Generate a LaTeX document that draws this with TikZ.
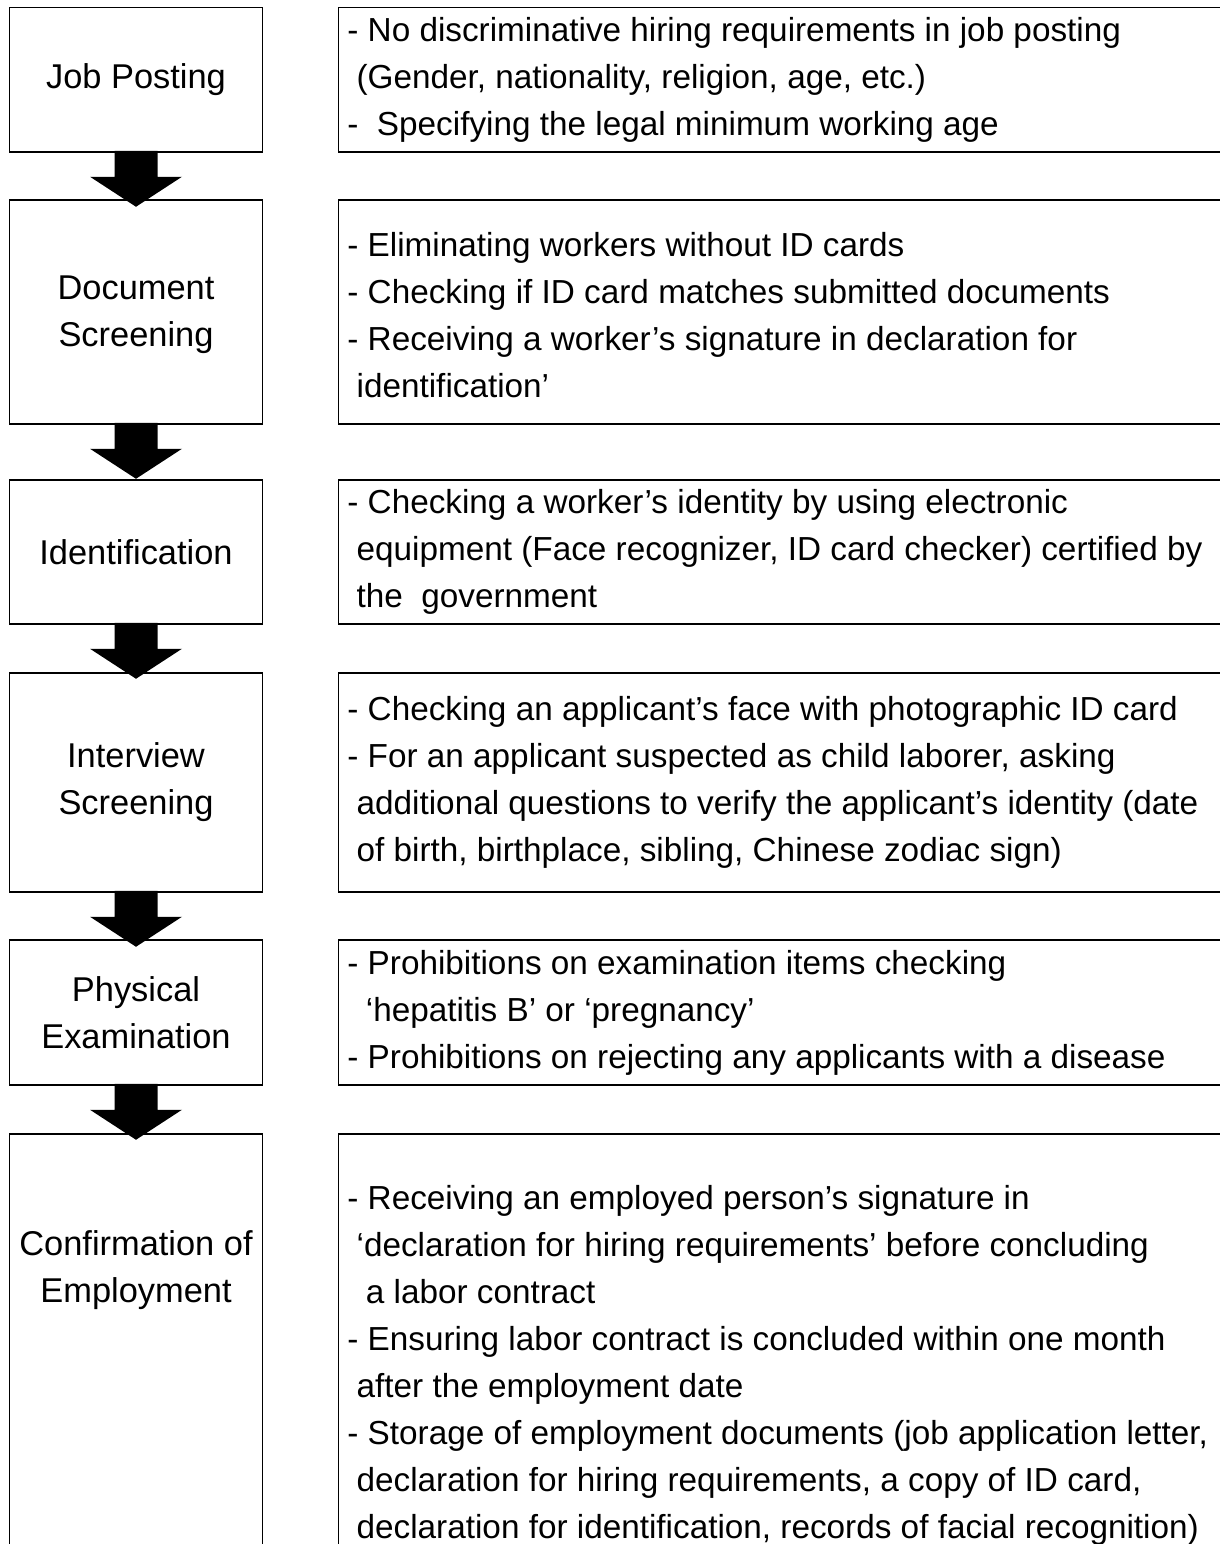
\documentclass[tikz,border=0pt]{standalone}
\usepackage{fontspec}
\setmainfont{Liberation Sans}
\usetikzlibrary{fit,calc}
\newcommand\ind{\hspace*{0.278em}}
\tikzset{
  box/.style={draw, line width=0.75pt, inner sep=0pt},
  ltxt/.style={align=center, inner sep=0pt, font=\fontsize{17.2pt}{23.5pt}\selectfont},
  rtxt/.style={align=left, inner sep=0pt, anchor=west, font=\fontsize{16.65pt}{23.5pt}\selectfont},
  blockarrow/.style={fill=black}
}
\newcommand\fatarrow[1]{%
  \fill[blockarrow] ($(#1.south)+(-21.5,-2)$) -- ($(#1.south)+(21.5,-2)$)
    -- ($(#1.south)+(21.5,24)$) -- ($(#1.south)+(46,24)$)
    -- ($(#1.south)+(0,54)$) -- ($(#1.south)+(-46,24)$)
    -- ($(#1.south)+(-21.5,24)$) -- cycle;}
\begin{document}
\begin{tikzpicture}[x=0.5pt,y=-0.5pt]
\useasboundingbox (0,0) rectangle (1220,1544);
\clip (0,0) rectangle (1220,1544);
\fill[white] (0,0) rectangle (1220,1544);
% left boxes
\node[box, fit={(9.5,7.5) (262.5,152)}] (L1) {};
\node[box, fit={(9.5,200) (262.5,424)}] (L2) {};
\node[box, fit={(9.5,480) (262.5,624)}] (L3) {};
\node[box, fit={(9.5,673) (262.5,892)}] (L4) {};
\node[box, fit={(9.5,940) (262.5,1085)}] (L5) {};
\node[box, fit={(9.5,1134) (262.5,1600)}] (L6) {};
% right boxes
\node[box, fit={(338.5,7.5) (1240,152)}] (R1) {};
\node[box, fit={(338.5,200) (1240,424)}] (R2) {};
\node[box, fit={(338.5,480) (1240,624)}] (R3) {};
\node[box, fit={(338.5,673) (1240,892)}] (R4) {};
\node[box, fit={(338.5,940) (1240,1085)}] (R5) {};
\node[box, fit={(338.5,1134) (1240,1600)}] (R6) {};
% left texts
\node[ltxt] (L1t) at (136,80) {Job Posting};
\node[ltxt] (L2t) at (136,315) {Document\\Screening};
\node[ltxt] (L3t) at (136,552) {Identification};
\node[ltxt] (L4t) at (136,782) {Interview\\Screening};
\node[ltxt] (L5t) at (136,1013) {Physical\\Examination};
\node[ltxt] (L6t) at (136,1270) {Confirmation of\\Employment};
% right texts
\node[rtxt] (R1t) at (347,80) {- No discriminative hiring requirements in job posting\\
\ind(Gender, nationality, religion, age, etc.)\\
-\ \ Specifying the legal minimum working age};
\node[rtxt] (R2t) at (347,315) {- Eliminating workers without ID cards\\
- Checking if ID card matches submitted documents\\
- Receiving a worker’s signature in declaration for\\
\ind identification’};
\node[rtxt] (R3t) at (347,552) {- Checking a worker’s identity by using electronic\\
\ind equipment (Face recognizer, ID card checker) certified by\\
\ind the\ \ government};
\node[rtxt] (R4t) at (347,782) {- Checking an applicant’s face with photographic ID card\\
- For an applicant suspected as child laborer, asking\\
\ind additional questions to verify the applicant’s identity (date\\
\ind of birth, birthplace, sibling, Chinese zodiac sign)};
\node[rtxt] (R5t) at (347,1013) {- Prohibitions on examination items checking\\
\ind\ind ‘hepatitis B’ or ‘pregnancy’\\
- Prohibitions on rejecting any applicants with a disease};
\node[rtxt] (R6t) at (347,1365) {- Receiving an employed person’s signature in\\
\ind ‘declaration for hiring requirements’ before concluding\\
\ind\ind a labor contract\\
- Ensuring labor contract is concluded within one month\\
\ind after the employment date\\
- Storage of employment documents (job application letter,\\
\ind declaration for hiring requirements, a copy of ID card,\\
\ind declaration for identification, records of facial recognition)};
% arrows
\fatarrow{L1}
\fatarrow{L2}
\fatarrow{L3}
\fatarrow{L4}
\fatarrow{L5}
\end{tikzpicture}
\end{document}
